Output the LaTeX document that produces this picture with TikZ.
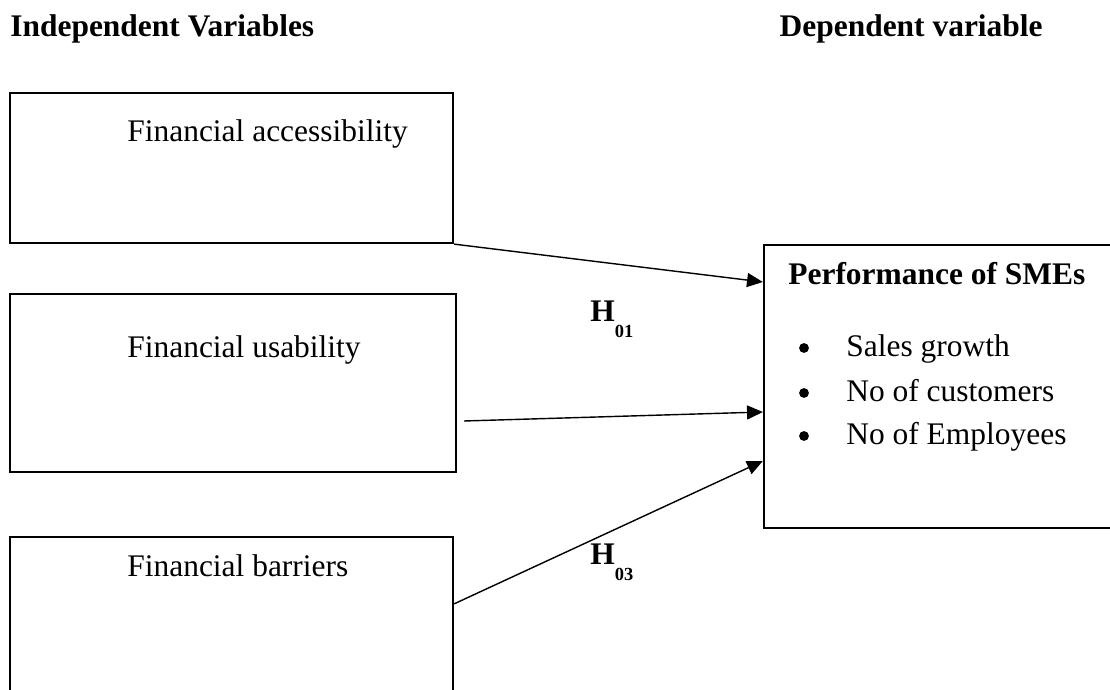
\documentclass[tikz,border=0pt]{standalone}
\usepackage{fontspec}
\setmainfont{Liberation Serif}
\usetikzlibrary{arrows.meta,positioning,calc}

\begin{document}
\begin{tikzpicture}[>={Triangle[length=9pt,width=8pt]},
  varbox/.style={draw,line width=1.3pt,inner sep=0pt},
  txt/.style={anchor=base west,inner sep=0pt,font=\fontsize{17.9}{21}\selectfont},
  head/.style={txt,font=\fontsize{17.9}{21}\selectfont\bfseries},
  hyp/.style={head},
  dot/.style={circle,fill,inner sep=0pt,minimum size=5.6pt},
  link/.style={->,line width=0.8pt}]
\clip (0,0) rectangle (22.2,13.8);
% headings
\node[head] (indep) at (0.2,13.06) {Independent Variables};
\node[head,anchor=base east] (dep) at (20.86,13.06) {Dependent variable};
% independent variable boxes
\node[varbox,minimum width=8.86cm,minimum height=3.0cm]  (acc) at (4.63,10.44) {};
\node[varbox,minimum width=8.92cm,minimum height=3.56cm] (use) at (4.66,6.14) {};
\node[varbox,minimum width=8.86cm,minimum height=3.56cm] (bar) at (4.63,1.28) {};
\node[txt] (acct) at (2.54,10.96) {Financial accessibility};
\node[txt] (uset) at (2.54,6.64) {Financial usability};
\node[txt] (bart) at (2.54,2.26) {Financial barriers};
% dependent variable box
\node[varbox,minimum width=7.22cm,minimum height=5.66cm] (perf) at (18.89,6.07) {};
\node[head] (perft) at (15.76,8.10) {Performance of SMEs};
\foreach \y/\item [count=\i] in {6.66/Sales growth,5.76/No of customers,4.90/No of Employees}{
  \node[dot] (dot\i) at (16.08,\y+0.18) {};
  \node[txt] (item\i) at (16.92,\y) {\item};
}
% hypotheses
\node[hyp] (h01) at (11.8,7.36) {H\raisebox{-9pt}{\fontsize{10.5}{12}\selectfont 01}};
\node[hyp] (h03) at (11.8,2.50) {H\raisebox{-9pt}{\fontsize{10.5}{12}\selectfont 03}};
% links
\draw[link] (acc.south east) -- ([yshift=2.09cm]perf.west);
\draw[link] ([xshift=0.14cm,yshift=-0.76cm]use.east) -- ([yshift=-0.51cm]perf.west);
\draw[link] ([yshift=-1.36cm]bar.north east) -- ([yshift=-1.49cm]perf.west);
\end{tikzpicture}
\end{document}
